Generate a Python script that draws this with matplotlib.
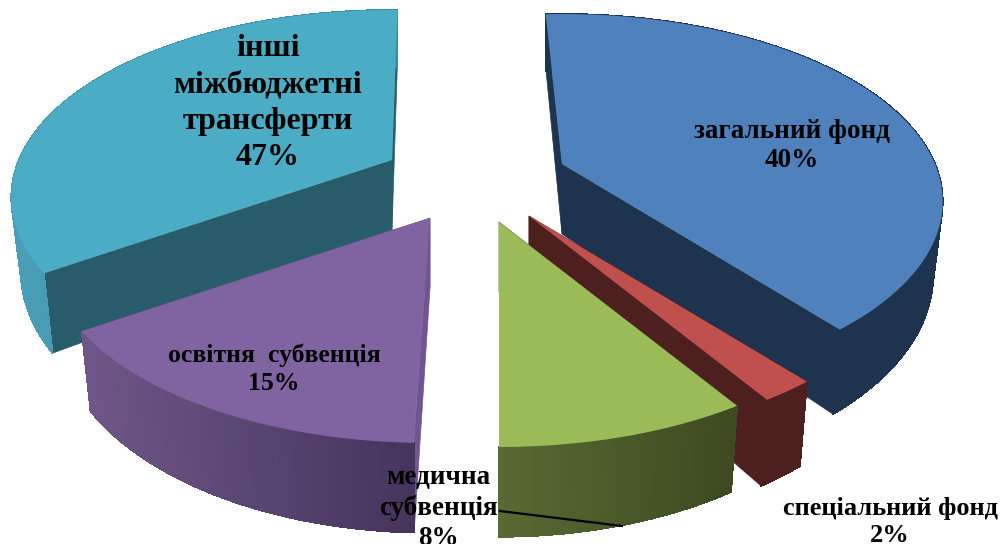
import numpy as np
import matplotlib
matplotlib.use("Agg")
import matplotlib.pyplot as plt
import matplotlib.colors as mcolors

# labels as printed on the slices (they add up to 112 in the original too)
categories = ["загальний фонд", "спеціальний\u00a0фонд", "медична\nсубвенція", "освітня  субвенція",
              "інші\nміжбюджетні\nтрансферти"]
percents = [40, 2, 8, 15, 47]
# angle each slice takes up in the picture, degrees clockwise
slice_degrees = [144, 7, 32, 54, 125]
start_angle = -3
# small shift before each slice, the exploded slices don't line up exactly
angle_gaps = [0, 0, 0, 2, 0]

colors_top = ["#4f81bd", "#c0504d", "#9bbb59", "#8064a2", "#4bacc6"]
colors_cut = ["#1e334e", "#4e1f1f", "#4a5a2a", "#6f5690", "#285c6b"]
wall_left = ["#1e334e", "#4e1f1f", "#586a33", "#6e5788", "#4a9db6"]
wall_right = ["#1e334e", "#4e1f1f", "#3d4a20", "#45345c", "#3c8aa3"]

# where the tip of each slice ended up after exploding the pie
tips = [(562, 164), (529, 216), (499, 222), (430, 218), (392, 160)]
draw_order = [4, 0, 3, 1, 2]

radius_x = 373
radius_y = 180
persp = 0.2
wall_h = 70
wall_persp = 0.22
wall_shrink = 0.975


def rim(tip, theta):
    # top edge of the disc in perspective, theta clockwise from the back
    t = np.radians(theta)
    w = 1 + persp * np.cos(t)
    return tip[0] + radius_x * np.sin(t) / w, tip[1] - radius_y * np.cos(t) / w


def drop(tip, x, y, theta=None):
    # same point moved down to the bottom of the disc
    c = 0 if theta is None else np.cos(np.radians(theta))
    h = wall_h / (1 + wall_persp * c)
    return tip[0] + (x - tip[0]) * wall_shrink, y + h


fig = plt.figure(figsize=(10.03, 5.44), dpi=100)
ax = fig.add_axes([0, 0, 1, 1])
ax.set_xlim(0, 1003)
ax.set_ylim(544, 0)
ax.axis("off")

spans = []
a_end = start_angle
for deg, gap in zip(slice_degrees, angle_gaps):
    a0 = a_end + gap
    a_end = a0 + deg
    spans.append((a0, a_end))

for i in draw_order:
    tip = tips[i]
    a0, a1 = spans[i]
    thetas = np.linspace(a0, a1, 120)
    xs, ys = rim(tip, thetas)
    tip_low = drop(tip, tip[0], tip[1])
    z = draw_order.index(i) * 3

    # the two cut faces
    for k, th in [(0, a0), (-1, a1)]:
        low = drop(tip, xs[k], ys[k], th)
        ax.fill([tip[0], xs[k], low[0], tip_low[0]], [tip[1], ys[k], low[1], tip_low[1]],
                color=colors_cut[i], lw=0.5, zorder=z + 1)

    # outer wall, cut into strips for the shading
    lows = [drop(tip, x, y, th) for x, y, th in zip(xs, ys, thetas)]
    c_l = np.array(mcolors.to_rgb(wall_left[i]))
    c_r = np.array(mcolors.to_rgb(wall_right[i]))
    span = max(xs.max() - xs.min(), 1)
    for k in range(len(xs) - 1):
        f = (xs[k] - xs.min()) / span
        col = c_l + (c_r - c_l) * f
        ax.fill([xs[k], xs[k + 1], lows[k + 1][0], lows[k][0]],
                [ys[k], ys[k + 1], lows[k + 1][1], lows[k][1]],
                color=col, lw=0.6, antialiased=False, zorder=z + 2)

    # top face
    ax.fill(np.r_[tip[0], xs], np.r_[tip[1], ys], color=colors_top[i], lw=0, zorder=z + 3)

# leader line of the small label
ax.plot([500, 622], [511, 526], color="black", lw=1.6, zorder=30)

label_pos = [(792, 146), (890, 522), (438, 508), (274, 369), (268, 103)]
label_size = [19.5, 19, 19.5, 18.5, 23]
label_spacing = [1.25, 1.25, 1.25, 1.25, 1.32]
for name, pct, pos, size, sp in zip(categories, percents, label_pos, label_size, label_spacing):
    ax.text(pos[0], pos[1], f"{name}\n{pct}%", ha="center", va="center", fontsize=size,
            fontweight="bold", family="Liberation Serif", color="black", linespacing=sp, zorder=31)

fig.savefig("out.png", dpi=100, facecolor="white")
